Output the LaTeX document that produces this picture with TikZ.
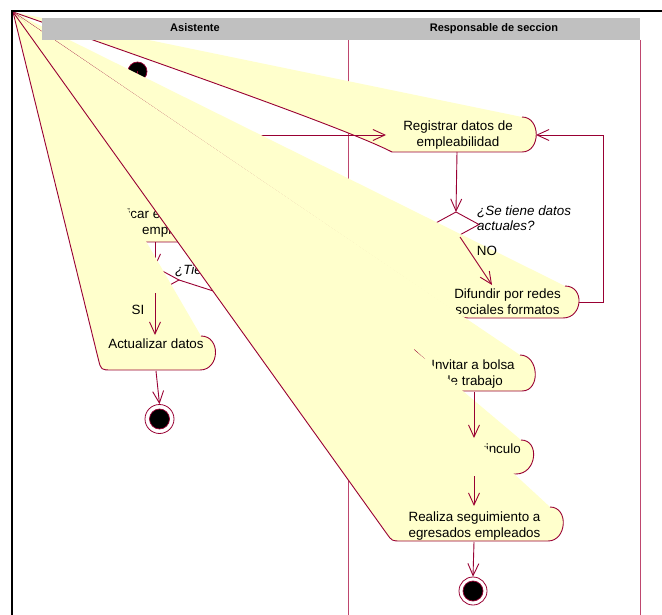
\documentclass[tikz,border=0pt]{standalone}
\usepackage{fontspec}
\setmainfont{Liberation Sans}
\usetikzlibrary{arrows.meta,calc}
\definecolor{rose}{RGB}{153,0,51}
\definecolor{lanecol}{RGB}{190,70,110}
\definecolor{actfill}{RGB}{255,255,204}
\definecolor{headgray}{RGB}{192,192,192}
\begin{document}
\begin{tikzpicture}[x=1pt,y=-1pt,
  lane/.style={draw=lanecol,line width=0.8pt},
  actline/.style={draw=rose,line width=0.9pt,line join=round},
  flow/.style={draw=rose,line width=0.9pt,-{Straight Barb[length=12pt,width=11pt]}},
  txt/.style={font=\fontsize{13.4}{16}\selectfont,inner sep=0pt,anchor=base,text=black},
  guard/.style={font=\fontsize{13.4}{16}\selectfont\itshape,inner sep=0pt,anchor=base west,text=black},
  head/.style={font=\fontsize{11}{13}\selectfont\bfseries,inner sep=0pt,anchor=base,text=black},
  decision/.style={draw=rose,line width=0.9pt,fill=white,line join=miter},
  startdot/.style={draw=rose,fill=black,line width=0.7pt},
  endring/.style={draw=rose,fill=white,line width=0.8pt},
]
\useasboundingbox (0,0) rectangle (662,615);
\fill[white] (0,0) rectangle (662,615);

% common corner that every activity outline collapses to
\coordinate (O) at (13,12);

% swimlane separators
\coordinate (lane1-top) at (348,40);
\coordinate (lane1-bot) at (348,615);
\coordinate (lane2-top) at (640,40);
\coordinate (lane2-bot) at (640,615);
\draw[lane] (lane1-top) -- (lane1-bot);
\draw[lane] (lane2-top) -- (lane2-bot);

% ---------- Registrar datos de empleabilidad ----------
\coordinate (reg-tr) at (522,117);
\coordinate (reg-br) at (522,152);
\coordinate (reg-bl) at (392,152);
\fill[actfill] (O) -- (reg-tr) .. controls +(19,0) and +(19,0) .. (reg-br) -- (reg-bl)
  .. controls (355,133) and (228,87) .. (O) -- cycle;
\draw[actline] (reg-tr) .. controls +(19,0) and +(19,0) .. (reg-br) -- (reg-bl)
  .. controls (355,133) and (228,87) .. (O);
\node[txt] (reg-t1) at (458,131) {Registrar datos de};
\node[txt] (reg-t2) at (458,147) {empleabilidad};

% initial state
\node[startdot,circle,minimum size=19pt,inner sep=0pt] (init) at (137.5,71.5) {};

% start -> Registrar
\coordinate (reg-in) at (386,135);
\draw[flow] (init.center) |- (reg-in);

% Registrar -> decision 1
\coordinate (reg-out) at (457,152);
\coordinate (d1-t) at (456,212);
\coordinate (d1-r) at (479,224.5);
\coordinate (d1-b) at (456,237);
\coordinate (d1-l) at (433,224.5);
\draw[flow] (reg-out) -- (d1-t);
\draw[decision] (d1-t) -- (d1-r) -- (d1-b) -- (d1-l) -- cycle;

% ---------- Verificar ----------
\coordinate (ver-tr) at (215,207);
\coordinate (ver-br) at (215,242);
\coordinate (ver-bl) at (105,242);
\fill[actfill] (O) -- (ver-tr) .. controls +(19,0) and +(19,0) .. (ver-br)
  -- ($(ver-bl)+(9,0)$) .. controls (ver-bl) .. ($(ver-bl)!9pt!(O)$) -- cycle;
\draw[actline] (ver-tr) .. controls +(19,0) and +(19,0) .. (ver-br)
  -- ($(ver-bl)+(9,0)$) .. controls (ver-bl) .. ($(ver-bl)!9pt!(O)$) -- (O);
\node[txt,anchor=base west] (ver-t1) at (100.5,218.5) {Verificar egresados};
\node[txt,anchor=base west] (ver-t2) at (142,234.5) {empleados};

% Verificar -> decision 2
\coordinate (ver-out) at (155,242);
\coordinate (d2-t) at (155,267);
\coordinate (d2-r) at (179,280);
\coordinate (d2-b) at (155,293);
\coordinate (d2-l) at (131,280);
\draw[flow] (ver-out) -- (d2-t);
\draw[decision] (d2-t) -- (d2-r) -- (d2-b) -- (d2-l) -- cycle;
\node[guard] (d2-q) at (175,274) {¿Tiene empleo?};

% ---------- Difundir por redes sociales formatos ----------
\coordinate (dif-tr) at (565,286);
\coordinate (dif-br) at (563,318);
\coordinate (dif-bl) at (463,318);
\fill[actfill] (O) -- (dif-tr) .. controls +(20,0) and +(20,0) .. (dif-br)
  -- ($(dif-bl)+(9,0)$) .. controls (dif-bl) .. ($(dif-bl)!9pt!(O)$) -- cycle;
\draw[actline] (dif-tr) .. controls +(20,0) and +(20,0) .. (dif-br)
  -- ($(dif-bl)+(9,0)$) .. controls (dif-bl) .. ($(dif-bl)!9pt!(O)$) -- (O);
\node[txt] (dif-t1) at (507.5,298.5) {Difundir por redes};
\node[txt] (dif-t2) at (507.5,314.5) {sociales formatos};

% decision 1 guard and NO branch
\node[guard] (d1-q1) at (477,215) {¿Se tiene datos};
\node[guard] (d1-q2) at (477,230.5) {actuales?};
\coordinate (dif-in) at (492,285);
\draw[flow] (d1-b) ++(4,0) coordinate (d1-out) (d1-out) -- (dif-in);
\node[txt] (no-lbl) at (487,255) {NO};

% ---------- Invitar a bolsa de trabajo ----------
\coordinate (inv-tr) at (520,355);
\coordinate (inv-br) at (522,391);
\coordinate (inv-bl) at (425,391);
\fill[actfill] (O) -- (inv-tr) .. controls +(19,0) and +(19,0) .. (inv-br)
  -- ($(inv-bl)+(9,0)$) .. controls (inv-bl) .. ($(inv-bl)!9pt!(O)$) -- cycle;
\draw[actline] (inv-tr) .. controls +(19,0) and +(19,0) .. (inv-br)
  -- ($(inv-bl)+(9,0)$) .. controls (inv-bl) .. ($(inv-bl)!9pt!(O)$) -- (O);
\node[txt] (inv-t1) at (473,369) {Invitar a bolsa};
\node[txt] (inv-t2) at (473,385) {de trabajo};

% decision 2 -> Invitar
\coordinate (inv-in) at (425,359);
\draw[flow] (d2-r) -- (inv-in);

% ---------- vinculo ----------
\coordinate (vin-tr) at (521,440);
\coordinate (vin-br) at (516,474);
\coordinate (vin-bl) at (430,474);
\fill[actfill] (O) -- (vin-tr) .. controls +(19,0) and +(21,0) .. (vin-br)
  -- ($(vin-bl)+(9,0)$) .. controls (vin-bl) .. ($(vin-bl)!9pt!(O)$) -- cycle;
\draw[actline] (vin-tr) .. controls +(19,0) and +(21,0) .. (vin-br)
  -- ($(vin-bl)+(9,0)$) .. controls (vin-bl) .. ($(vin-bl)!9pt!(O)$) -- (O);
\node[txt,anchor=base east] (vin-t1) at (521,453) {vinculo};

% ---------- Actualizar datos ----------
\coordinate (act-tr) at (201,336);
\coordinate (act-br) at (200,370);
\coordinate (act-bl) at (101,370);
\fill[actfill] (O) -- (act-tr) .. controls +(20,0) and +(20,0) .. (act-br)
  -- ($(act-bl)+(11,0)$) .. controls (act-bl) .. ($(act-bl)!11pt!(O)$) -- cycle;
\draw[actline] (act-tr) .. controls +(20,0) and +(20,0) .. (act-br)
  -- ($(act-bl)+(11,0)$) .. controls (act-bl) .. ($(act-bl)!11pt!(O)$) -- (O);
\node[txt] (act-t1) at (156,348.5) {Actualizar datos};

% ---------- Realiza seguimiento a egresados empleados ----------
\coordinate (rea-tr) at (550,507);
\coordinate (rea-br) at (548,541);
\coordinate (rea-bl) at (392,541);
\fill[actfill] (O) -- (rea-tr) .. controls +(19,0) and +(19,0) .. (rea-br)
  -- ($(rea-bl)+(9,0)$) .. controls (rea-bl) .. ($(rea-bl)!9pt!(O)$) -- cycle;
\draw[actline] (rea-tr) .. controls +(19,0) and +(19,0) .. (rea-br)
  -- ($(rea-bl)+(9,0)$) .. controls (rea-bl) .. ($(rea-bl)!9pt!(O)$) -- (O);
\node[txt] (rea-t1) at (474.5,521) {Realiza seguimiento a};
\node[txt] (rea-t2) at (474.5,537) {egresados empleados};

% ---------- remaining transitions ----------
\coordinate (act-in) at (155,335);
\draw[flow] (d2-b) -- (act-in);
\node[txt] (si-lbl) at (138,314) {SI};

\node[endring,circle,minimum size=29pt,inner sep=0pt] (end1) at (159.5,419) {};
\node[startdot,circle,minimum size=20pt,inner sep=0pt] (end1-dot) at (end1) {};
\coordinate (act-out) at (156,371);
\draw[flow] (act-out) -- (end1.north);

\coordinate (inv-out) at (474,392);
\coordinate (vin-in) at (474,438);
\draw[flow] (inv-out) -- (vin-in);

\coordinate (vin-out) at (474,476);
\coordinate (rea-in) at (474,506);
\draw[flow] (vin-out) -- (rea-in);

\node[endring,circle,minimum size=28pt,inner sep=0pt] (end2) at (473,591) {};
\node[startdot,circle,minimum size=20pt,inner sep=0pt] (end2-dot) at (end2) {};
\coordinate (rea-out) at (474,542);
\draw[flow] (rea-out) -- (end2.north);

% Difundir loops back to Registrar
\coordinate (dif-out) at (579,302);
\coordinate (loop-x) at (603,302);
\coordinate (reg-back) at (536,135);
\draw[flow] (dif-out) -- (loop-x) |- (reg-back);

% ---------- swimlane header and frame ----------
\fill[headgray] (42,18) rectangle (640,40);
\node[head] (lane-a) at (195,32) {Asistente};
\node[head] (lane-b) at (494,32) {Responsable de seccion};
\draw[black,line width=1.8pt] (12,615) -- (12,11) -- (662,11);
\end{tikzpicture}
\end{document}
